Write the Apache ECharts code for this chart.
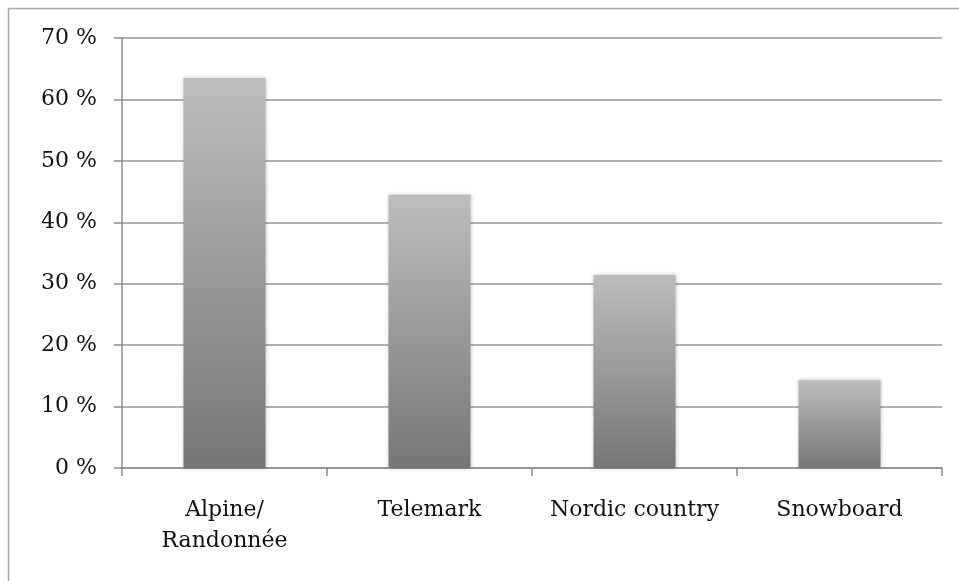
<!DOCTYPE html>
<html>
<head>
<meta charset="utf-8">
<style>
  html, body { margin: 0; padding: 0; background: #fff; }
  #chart { width: 959px; height: 581px; }
</style>
<script src="https://cdn.jsdelivr.net/npm/echarts@6/dist/echarts.min.js"></script>
</head>
<body>
<div id="chart"></div>
<script>
// Share of respondents by discipline
const categories = ['Alpine/\nRandonnée', 'Telemark', 'Nordic country', 'Snowboard'];
const shares = [63.5, 44.5, 31.4, 14.3];
const yTicks = [0, 10, 20, 30, 40, 50, 60, 70];

const chart = echarts.init(document.getElementById('chart'), null, { renderer: 'canvas' });

const font = '"DejaVu Serif", "Liberation Serif", serif';

chart.setOption({
  backgroundColor: '#ffffff',
  animation: false,
  graphic: [{
    type: 'rect',
    shape: { x: 8.5, y: 8.5, width: 1000, height: 1000 },
    style: { fill: 'none', stroke: '#a6a6a6', lineWidth: 1.5 },
    silent: true,
    z: 0
  }],
  grid: { left: 122, right: 17, top: 38, bottom: 113, containLabel: false },
  xAxis: {
    type: 'category',
    data: categories,
    axisLine: { show: true, lineStyle: { color: '#8c8c8c', width: 1.5 } },
    axisTick: { show: true, length: 8, alignWithLabel: false, interval: 0, lineStyle: { color: '#8c8c8c', width: 1.5 } },
    axisLabel: { interval: 0, hideOverlap: false, color: '#111', fontFamily: font, fontSize: 22, margin: 27, lineHeight: 31 },
    splitLine: { show: false }
  },
  yAxis: {
    type: 'value',
    min: yTicks[0],
    max: yTicks[yTicks.length - 1],
    interval: 10,
    axisLine: { show: true, lineStyle: { color: '#8c8c8c', width: 1.5 } },
    axisTick: { show: true, length: 8, lineStyle: { color: '#8c8c8c', width: 1.5 } },
    axisLabel: { color: '#111', fontFamily: font, fontSize: 22, margin: 25, formatter: v => v + ' %' },
    splitLine: { show: true, lineStyle: { color: '#999999', width: 1.5 } }
  },
  series: [{
    type: 'bar',
    data: shares,
    barWidth: '40%',
    itemStyle: {
      color: new echarts.graphic.LinearGradient(0, 0, 0, 1, [
        { offset: 0, color: '#bdbdbd' },
        { offset: 1, color: '#767676' }
      ]),
      shadowColor: 'rgba(0,0,0,0.25)',
      shadowBlur: 4,
      shadowOffsetX: 0,
      shadowOffsetY: 0
    }
  }]
});
</script>
</body>
</html>
